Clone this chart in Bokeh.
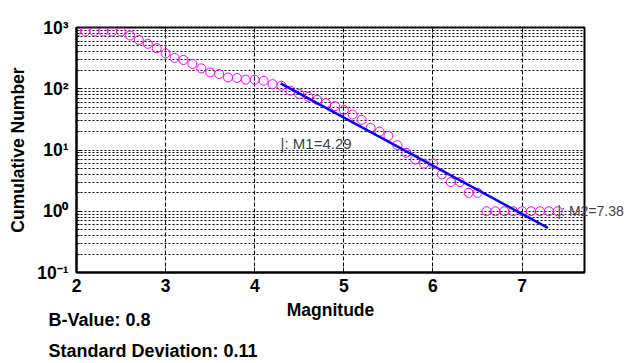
from bokeh.plotting import figure
from bokeh.models import Label, FixedTicker, Range1d, LogAxis, LinearAxis
from bokeh.embed import file_html
from bokeh.resources import INLINE

# ---- data ----
magnitudes = [2.0, 2.1, 2.2, 2.3, 2.4, 2.5, 2.6, 2.7, 2.8, 2.9,
              3.0, 3.1, 3.2, 3.3, 3.4, 3.5, 3.6, 3.7, 3.8, 3.9,
              4.0, 4.1, 4.2, 4.3, 4.4, 4.5, 4.6, 4.7, 4.8, 4.9,
              5.0, 5.1, 5.2, 5.3, 5.4, 5.5, 5.6, 5.7, 5.8, 5.9,
              6.0, 6.1, 6.2, 6.3, 6.4, 6.5, 6.6, 6.7, 6.8, 6.9,
              7.0, 7.1, 7.2, 7.3, 7.4]
cum_number = [860, 860, 860, 860, 860, 860, 740, 628, 541, 458,
              379, 319, 295, 254, 215, 185, 174, 153, 150, 141,
              140, 135, 119, 112, 93, 82, 74, 66, 58, 52,
              45, 38, 31, 23, 20, 17, 12, 9, 7, 6,
              6, 4, 3, 3, 2, 2, 1, 1, 1, 1,
              1, 1, 1, 1, 1]
fit_mag = [4.29, 7.29]
fit_number = [122, 0.534]
x_ticks = [2, 3, 4, 5, 6, 7]
y_ticks = [0.1, 1, 10, 100, 1000]
y_tick_labels = ["10\u207b\u00b9", "10\u2070", "10\u00b9", "10\u00b2", "10\u00b3"]
m1_value = 4.29
m1_label_y = 13.0
m2_value = 7.38
m2_label_y = 1
b_value = 0.8
std_dev = 0.11

FONT = "Liberation Sans"
NOTE_COLOR = "#404050"

p = figure(width=626, height=363, output_backend="svg", toolbar_location=None,
           y_axis_type="log", x_range=Range1d(2, 7.7), y_range=Range1d(0.1, 1000),
           min_border_left=76, min_border_right=42, min_border_top=27,
           min_border_bottom=91)
p.background_fill_color = "white"
p.border_fill_color = "white"
p.outline_line_color = "black"
p.outline_line_width = 2

# axes
p.xaxis.ticker = FixedTicker(ticks=x_ticks)
minor = [m * 10 ** e for e in range(-1, 3) for m in range(2, 10)]
p.yaxis.ticker = FixedTicker(ticks=y_ticks, minor_ticks=minor)
p.yaxis.major_label_overrides = {t: lab for t, lab in zip(y_ticks, y_tick_labels)}

for ax in (p.xaxis[0], p.yaxis[0]):
    ax.axis_line_width = 2
    ax.axis_line_color = "black"
    ax.major_tick_in = 5
    ax.major_tick_out = 0
    ax.minor_tick_in = 3
    ax.minor_tick_out = 0
    ax.major_label_text_font = FONT
    ax.major_label_text_font_style = "bold"
    ax.major_label_text_font_size = "17.5px"
    ax.major_label_text_color = "black"
    ax.axis_label_text_font = FONT
    ax.axis_label_text_font_style = "bold"
    ax.axis_label_text_font_size = "17.5px"
    ax.axis_label_text_color = "black"

p.xaxis.axis_label = "Magnitude"
p.yaxis.axis_label = "Cumulative Number"
p.xaxis.major_label_standoff = 6
p.xaxis.axis_label_standoff = 5
p.yaxis.major_label_standoff = 8
p.yaxis.axis_label_standoff = 6

# grids
p.xgrid.grid_line_color = "black"
p.xgrid.grid_line_dash = "4 2"
p.xgrid.grid_line_width = 1
p.ygrid.grid_line_color = "black"
p.ygrid.grid_line_dash = "2 2"
p.ygrid.grid_line_width = 1
p.ygrid.minor_grid_line_color = "black"
p.ygrid.minor_grid_line_dash = "2 2"
p.ygrid.minor_grid_line_width = 1

# data
p.scatter(magnitudes, cum_number, marker="circle", size=9,
          fill_color=None, line_color="#ff00ff", line_width=1)
p.line(fit_mag, fit_number, line_color="#0000ff", line_width=2.5)

# M1 annotation (inside the frame)
p.add_layout(Label(x=m1_value, y=m1_label_y, text=f"|: M1={m1_value}",
                   text_font=FONT, text_font_size="15px", text_color=NOTE_COLOR,
                   text_baseline="middle", text_align="left"))


def text_axis(axis, text, standoff, size, bold, color):
    """A bare axis whose single tick label carries a free-standing text."""
    tick = axis.ticker.ticks[0]
    axis.major_label_overrides = {tick: text}
    axis.axis_line_color = None
    axis.major_tick_line_color = None
    axis.minor_tick_line_color = None
    axis.major_tick_out = 0
    axis.major_tick_in = 0
    axis.minor_tick_out = 0
    axis.minor_tick_in = 0
    axis.major_label_standoff = standoff
    axis.major_label_text_font = FONT
    axis.major_label_text_font_size = size
    axis.major_label_text_font_style = "bold" if bold else "normal"
    axis.major_label_text_color = color
    return axis


# M2 annotation: runs past the frame, so it is the label of a bare right axis
p.add_layout(text_axis(LogAxis(ticker=FixedTicker(ticks=[m2_label_y])),
                       f"|: M2={m2_value}", -27, "14px", False, NOTE_COLOR),
             "right")

# bottom texts: centred labels of bare axes below the magnitude axis
b_text_center = 2.258     # x at the middle of the "B-Value" text
sd_text_center = 2.858    # x at the middle of the "Standard Deviation" text
p.add_layout(text_axis(LinearAxis(ticker=FixedTicker(ticks=[b_text_center])),
                       f"B-Value: {b_value}", -13, "18px", True, "black"),
             "below")
p.add_layout(text_axis(LinearAxis(ticker=FixedTicker(ticks=[sd_text_center])),
                       f"Standard Deviation: {std_dev}", 8, "18px", True, "black"),
             "below")

open("out.html", "w").write(file_html(p, INLINE))
